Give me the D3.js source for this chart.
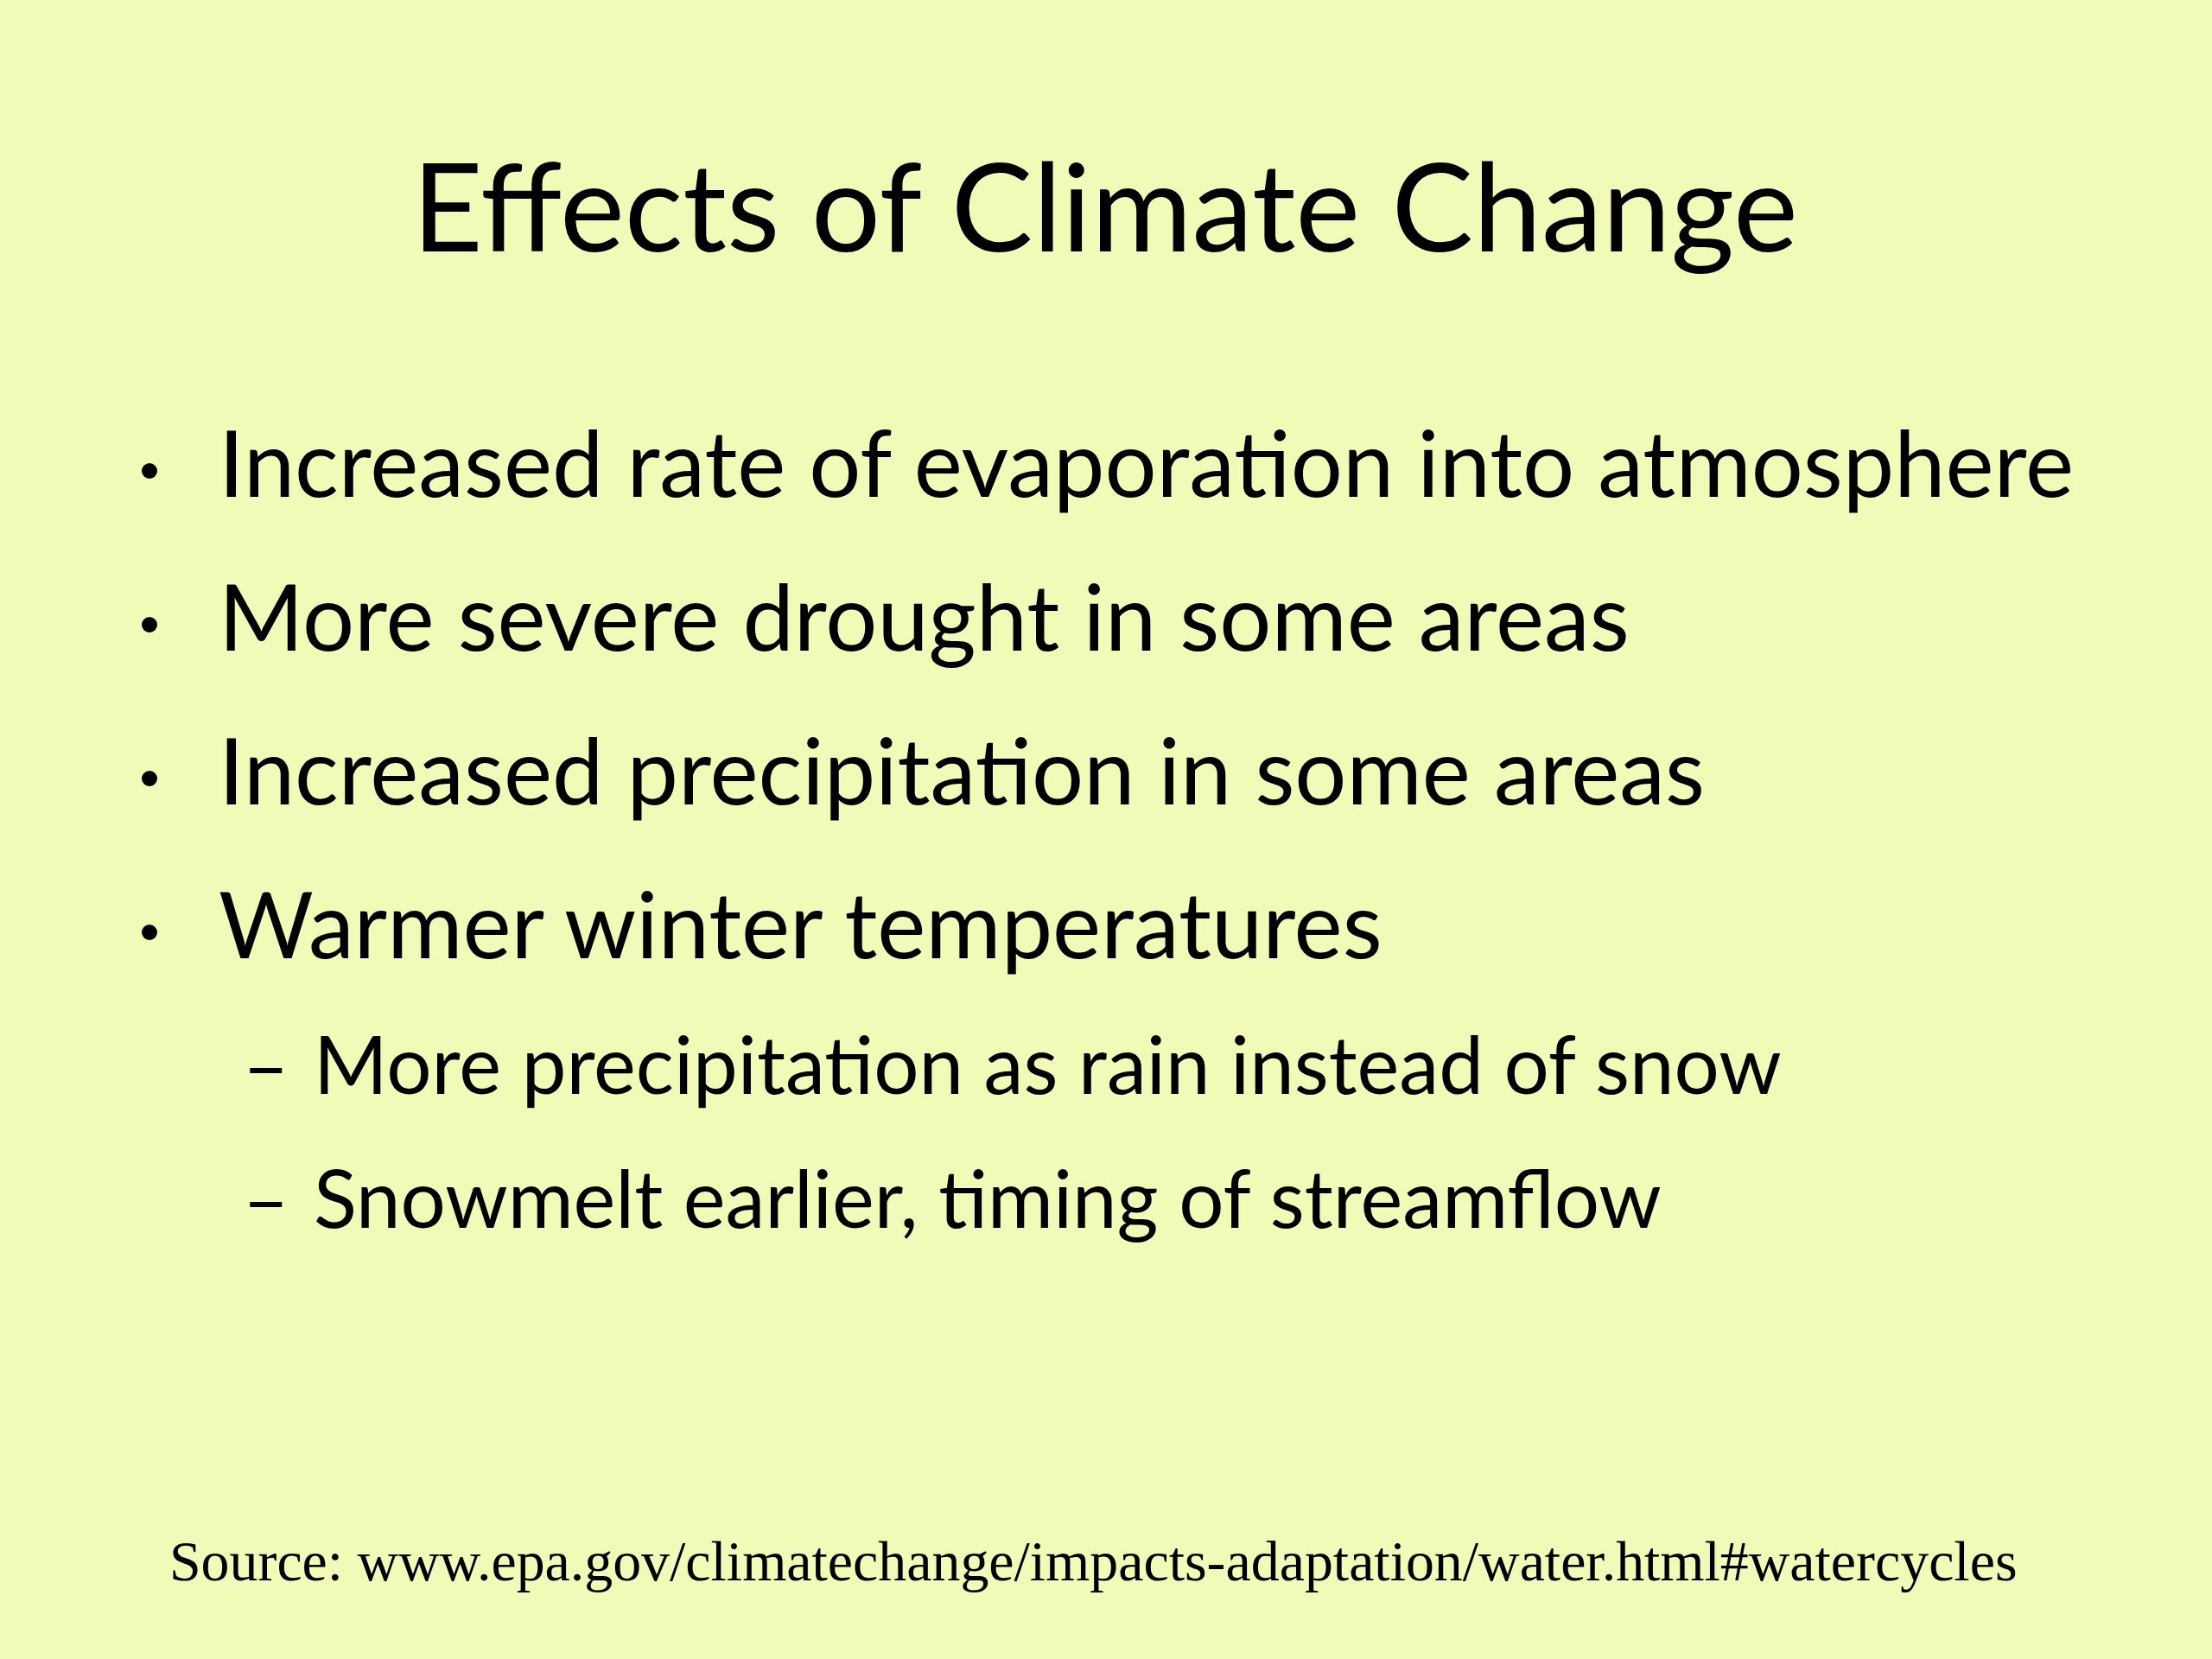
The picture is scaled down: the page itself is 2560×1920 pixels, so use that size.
<!DOCTYPE html>
<html>
<head>
<meta charset="utf-8">
<script src="https://cdn.jsdelivr.net/npm/d3@7"></script>
<style>
  body { margin: 0; background: #f2fab8; }
</style>
</head>
<body>
<div id="canvas"></div>
<script>
"use strict"

// Slide content
let title = "Effects of Climate Change";
let bullets = [
    "Increased rate of evaporation into atmosphere",
    "More severe drought in some areas",
    "Increased precipitation in some areas",
    "Warmer winter temperatures"
];
let subBullets = [
    "More precipitation as rain instead of snow",
    "Snowmelt earlier, timing of streamflow"
];
let source = "Source: www.epa.gov/climatechange/impacts-adaptation/water.html#watercycles";

let W = 2560, H = 1920;
let drawing = d3.select("#canvas")
    .append("svg")
    .attr("width", W)
    .attr("height", H);

drawing.append("rect")
    .attr("width", W)
    .attr("height", H)
    .attr("fill", "#f2fab8");

let sans = "Lato, 'Open Sans', sans-serif";

// fit a text element's width by adjusting font size
function fitWidth(sel, target) {
    let w = sel.node().getComputedTextLength();
    let fs = parseFloat(sel.attr("font-size"));
    sel.attr("font-size", fs * target / w);
}

// Title
let t = drawing.append("text")
    .attr("x", 1279)
    .attr("y", 291)
    .attr("text-anchor", "middle")
    .attr("font-family", sans)
    .attr("font-size", 147)
    .attr("fill", "#000")
    .text(title);
fitWidth(t, 1604);

// Main bullets
let rowY = d3.scaleLinear().domain([0, 1]).range([575, 753]);
let size1 = 104;
bullets.forEach(function (b, i) {
    drawing.append("circle")
        .attr("cx", 173)
        .attr("cy", rowY(i) - 30)
        .attr("r", 9)
        .attr("fill", "#000");
    let tx = drawing.append("text")
        .attr("x", 253)
        .attr("y", rowY(i))
        .attr("font-family", sans)
        .attr("font-size", size1)
        .attr("fill", "#000")
        .text(b);
    if (i === 0) { fitWidth(tx, 2147); size1 = +tx.attr("font-size"); }
});
drawing.selectAll("text").filter(function () { return this.textContent !== title; })
    .attr("font-size", size1);

// Sub bullets
let subY = d3.scaleLinear().domain([0, 1]).range([1266, 1421]);
let size2 = 90;
subBullets.forEach(function (s, i) {
    drawing.append("text")
        .attr("class", "sub")
        .attr("x", 281)
        .attr("y", subY(i))
        .attr("font-family", sans)
        .attr("font-size", size2)
        .attr("fill", "#000")
        .text("\u2013");
    let tx = drawing.append("text")
        .attr("class", "sub")
        .attr("x", 363)
        .attr("y", subY(i))
        .attr("font-family", sans)
        .attr("font-size", size2)
        .attr("fill", "#000")
        .text(s);
    if (i === 0) { fitWidth(tx, 1699); size2 = +tx.attr("font-size"); }
});
drawing.selectAll("text.sub").attr("font-size", size2);

// Source line
let src = drawing.append("text")
    .attr("x", 196)
    .attr("y", 1829)
    .attr("font-family", "'Liberation Serif', 'DejaVu Serif', serif")
    .attr("font-size", 56)
    .attr("fill", "#000")
    .text(source);
fitWidth(src, 2139);
</script>
</body>
</html>
